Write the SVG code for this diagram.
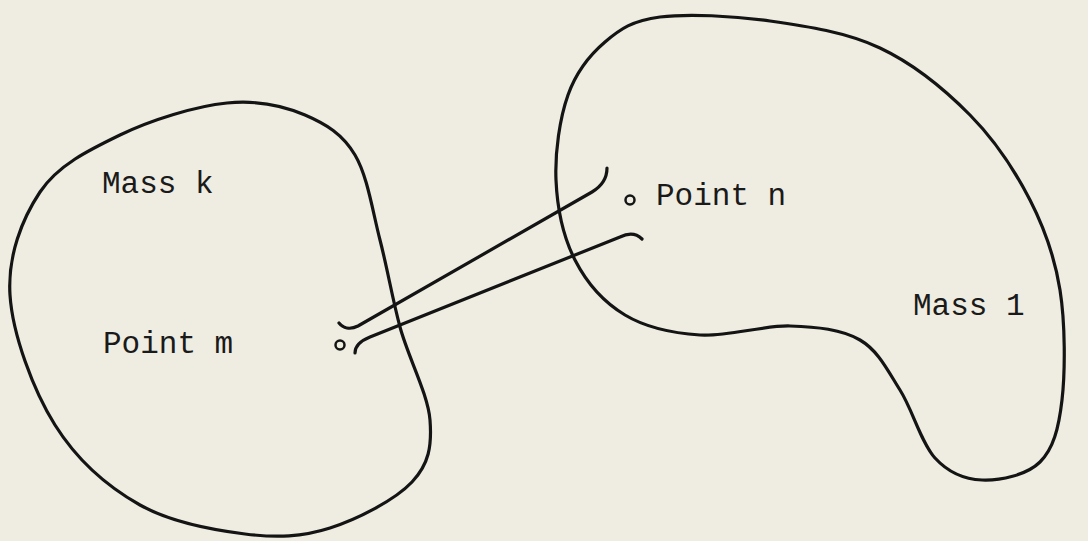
<svg xmlns="http://www.w3.org/2000/svg" width="1088" height="541" viewBox="0 0 1088 541">
<style>
.outline{fill:none;stroke:#141414;stroke-width:3.2;stroke-linecap:round;stroke-linejoin:round}
.conn{fill:none;stroke:#141414;stroke-width:3.2;stroke-linecap:round}
.pt{fill:none;stroke:#141414;stroke-width:2.5}
.lbl{font-family:"Liberation Mono","DejaVu Sans Mono",monospace;font-size:31px;fill:#1a1a1a}
</style>
<rect width="1088" height="541" fill="#efede1"/>
<g id="mass-k">
<path class="outline" d="M227,103 C258,100 284,106 305,115 C326,124 342.5,134 355,155 C367.5,176 372.5,211 380,240 C387.5,269 392,297 400,327 C408,357 428,394 430,420 C432,446 429,464 412,482 C395,500 358,519 330,528 C302,537 277,538 245,534 C213,530 172,523 140,505 C108,487 77,460 55,425 C33,390 12.5,334 10,295 C7.5,256 22,219 40,192 C58,165 89,150 120,135 C151,120 196,106 227,103 Z"/>
<text class="lbl" x="102" y="193">Mass k</text>
</g>
<g id="mass-l">
<path class="outline" d="M660,17 C687.5,13.5 733.3,15.8 770,21 C806.7,26.2 846.7,32.3 880,48 C913.3,63.7 945,89.7 970,115 C995,140.3 1015,170.8 1030,200 C1045,229.2 1054.7,256.7 1060,290 C1065.3,323.3 1065.3,371.3 1062,400 C1058.7,428.7 1053.3,448.7 1040,462 C1026.7,475.3 999.5,480.7 982,480 C964.5,479.3 948.7,473 935,458 C921.3,443 912.5,409.7 900,390 C887.5,370.3 878.3,350.7 860,340 C841.7,329.3 816.7,326.8 790,326 C763.3,325.2 727.5,336.8 700,335 C672.5,333.2 645.8,327.5 625,315 C604.2,302.5 586.5,282.5 575,260 C563.5,237.5 557.2,207.5 556,180 C554.8,152.5 559.8,118 568,95 C576.2,72 589.7,55 605,42 C620.3,29 632.5,20.5 660,17 Z"/>
<text class="lbl" x="913" y="315">Mass 1</text>
</g>
<g id="point-m">
<circle class="pt" cx="340" cy="345" r="4.5"/>
<text class="lbl" x="103" y="353">Point m</text>
</g>
<g id="point-n">
<circle class="pt" cx="630" cy="200" r="4.5"/>
<text class="lbl" x="656" y="205">Point n</text>
</g>
<g id="connectors">
<path class="conn" d="M339,323 C343,328 350,330 358,326 L592,192 C602,186 607,178 607,168"/>
<path class="conn" d="M355,353 C355,346 360,341 370,337 L620,237 C628,233 636,233 642,239"/>
</g>
</svg>
